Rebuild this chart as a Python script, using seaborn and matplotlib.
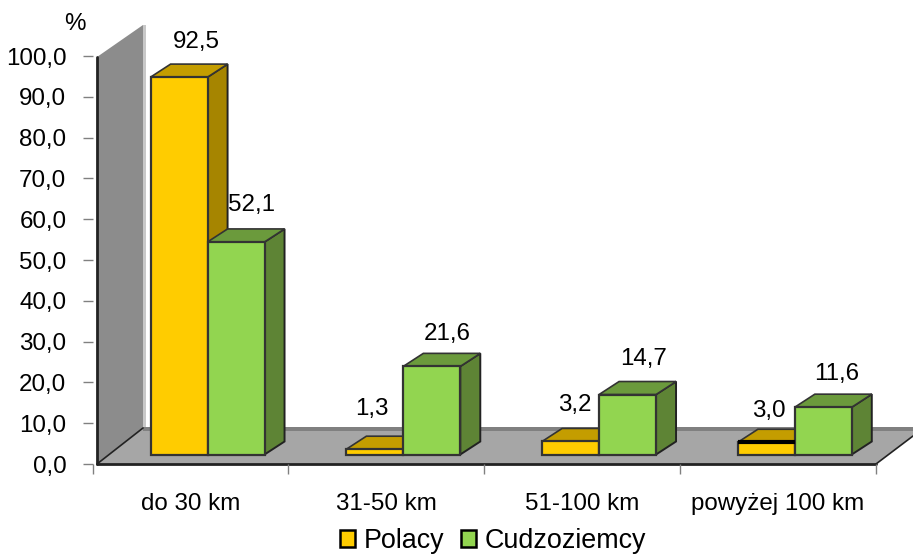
import pandas as pd
import matplotlib
matplotlib.use('Agg')
import matplotlib.pyplot as plt
from matplotlib.patches import Polygon, Patch
from matplotlib.transforms import Affine2D
import seaborn as sns

#########
# Data  #
#########
categories = ['do 30 km', '31-50 km', '51-100 km', 'powyżej 100 km']
polacy = [92.5, 1.3, 3.2, 3.0]
cudzoziemcy = [52.1, 21.6, 14.7, 11.6]
y_ticks = [0, 10, 20, 30, 40, 50, 60, 70, 80, 90, 100]
series_names = ['Polacy', 'Cudzoziemcy']

# label nudges in pixels from the front centre of the bar top (x, y)
label_nudge_polacy = [(17, 35), (-3, 40), (4, 36), (2, 31)]
label_nudge_cudz = [(15, 37), (15, 32), (16, 36), (13, 33)]

W, H, DPI = 913, 554, 100
LEFT, RIGHT, BOTTOM, TOP = 92.7, 875.7, 464, 56

sns.set_style('white')
plt.rcParams['font.family'] = ['Liberation Sans', 'DejaVu Sans']
plt.rcParams['text.color'] = 'black'

df = pd.DataFrame({
    'category': categories * 2,
    'value': polacy + cudzoziemcy,
    'series': [series_names[0]] * 4 + [series_names[1]] * 4,
})

fig = plt.figure(figsize=(W / DPI, H / DPI), dpi=DPI)
ax = fig.add_axes([LEFT / W, 1 - BOTTOM / H, (RIGHT - LEFT) / W, (BOTTOM - TOP) / H])

fronts = ['#ffcc00', '#92d550']
tops = ['#c49d00', '#6b9a3c']
sides = ['#a68500', '#5e8435']

sns.barplot(data=df, x='category', y='value', hue='series', hue_order=series_names,
            palette=fronts, width=0.582, saturation=1, gap=0, legend=False, ax=ax,
            edgecolor='#333333', linewidth=1.6, zorder=5)

ax.set_xlim(-0.5, 3.5)
ax.set_ylim(0, 100)
ax.set_xlabel('')
ax.set_ylabel('')
sns.despine(ax=ax, left=True, bottom=True, top=True, right=True)

# Ticks and labels
ax.set_yticks(y_ticks)
ax.set_yticklabels([f'{v:.1f}'.replace('.', ',') for v in y_ticks], fontsize=17.4)
ax.tick_params(axis='y', left=True, length=7, width=1, color='#808080', pad=12, labelcolor='black')
ax.set_xticks(range(4))
ax.set_xticklabels(categories, fontsize=17.4)
ax.tick_params(axis='x', which='major', bottom=False, length=0, pad=21, labelcolor='black')
ax.set_xticks([-0.5, 0.5, 1.5, 2.5, 3.5], minor=True)
ax.tick_params(axis='x', which='minor', bottom=True, length=7, width=1, color='#808080')
fig.text(75 / W, 1 - 24 / H, '%', fontsize=17.4, ha='center', va='center')

# Wall and floor, in image pixels
pix = Affine2D().scale(1, -1).translate(0, H)
def deco(points, **kw):
    fig.add_artist(Polygon(points, closed=True, transform=pix, **kw))

deco([(97, 57), (143, 25), (143, 428), (97, 464)], facecolor='#8c8c8c', edgecolor='none', zorder=0.5)
deco([(143, 25), (146, 25), (146, 428), (143, 428)], facecolor='#c8c8c8', edgecolor='none', zorder=0.5)
deco([(97, 464), (143, 428), (913, 428), (913, 436), (876, 464)], facecolor='#a6a6a6', edgecolor='none', zorder=0.6)
deco([(143, 427), (913, 427), (913, 431), (143, 431)], facecolor='#808080', edgecolor='none', zorder=0.7)
for xs, ys, lw in [((97, 876), (464, 464), 2), ((97, 97), (57, 464), 2),
                   ((97, 143), (464, 428), 1.2), ((876, 913), (464, 436), 1.2)]:
    fig.add_artist(plt.Line2D(xs, ys, transform=pix, color='#222222', lw=lw, zorder=0.8))
ax.patch.set_alpha(0)
ax.set_zorder(2)

# 3D sides: bars sit on the floor, pushed back from the axis plane
bar_shift = ax.transData + Affine2D().translate(17, 9.5)
depth_x = 20 / ((RIGHT - LEFT) / 4)
depth_y = 13 / ((BOTTOM - TOP) / 100)
nudges = [label_nudge_polacy, label_nudge_cudz]

for s, container in enumerate(ax.containers):
    for b, bar in enumerate(container):
        bar.set_transform(bar_shift)
        bar.set_zorder(5)
        x, w, h = bar.get_x(), bar.get_width(), bar.get_height()
        ax.add_patch(Polygon([(x + w, 0), (x + w + depth_x, depth_y), (x + w + depth_x, h + depth_y), (x + w, h)],
                             facecolor=sides[s], edgecolor='#222222', lw=1.4,
                             transform=bar_shift, zorder=3 + s * 0.5, clip_on=False))
        ax.add_patch(Polygon([(x, h), (x + depth_x, h + depth_y), (x + w + depth_x, h + depth_y), (x + w, h)],
                             facecolor=tops[s], edgecolor='#333333', lw=1.2,
                             transform=bar_shift, zorder=3 + s * 0.5, clip_on=False))
        nx, ny = nudges[s][b]
        ax.annotate(f'{h:.1f}'.replace('.', ','), xy=(x + w / 2, h), xycoords=bar_shift,
                    xytext=(nx * 72 / DPI, ny * 72 / DPI), textcoords='offset points',
                    ha='center', va='center', fontsize=17.4, color='black', zorder=7, annotation_clip=False)

# thick black rim on the last yellow bar, as in the original
last = ax.containers[0][3]
ax.plot([last.get_x(), last.get_x() + last.get_width()], [last.get_height()] * 2, color='black', lw=3,
        transform=bar_shift, zorder=5.2, clip_on=False, solid_capstyle='butt')

# Legend
handles = [Patch(facecolor=fronts[i], edgecolor='black', lw=1.8, label=series_names[i]) for i in range(2)]
fig.legend(handles=handles, loc='center', bbox_to_anchor=(493 / W, 1 - 541 / H), ncol=2, frameon=False,
           fontsize=19.4, handlelength=0.55, handleheight=0.55, handletextpad=0.32,
           columnspacing=0.62, borderpad=0, borderaxespad=0)

fig.savefig('out.png', dpi=DPI)
